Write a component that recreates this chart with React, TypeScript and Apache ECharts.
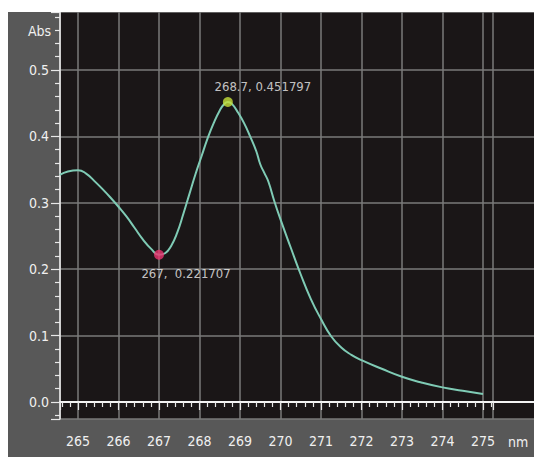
import React, { useEffect, useRef } from "react";
import * as echarts from "echarts";

const wavelengths = [
  264.55, 264.75, 265.0, 265.2, 265.4, 265.6, 265.8, 266.0, 266.2, 266.4, 266.6, 266.8,
  267.0, 267.15, 267.3, 267.45, 267.6, 267.75, 267.9, 268.05, 268.2, 268.35, 268.5, 268.6,
  268.7, 268.8, 268.95, 269.1, 269.25, 269.4, 269.5, 269.6, 269.7, 269.85, 270.0, 270.25,
  270.5, 270.75, 271.0, 271.25, 271.5, 271.75, 272.0, 272.5, 273.0, 273.5, 274.0, 274.5, 275.0,
];
const absorbance = [
  0.342, 0.347, 0.349, 0.344, 0.333, 0.321, 0.308, 0.294, 0.279, 0.262, 0.245, 0.231,
  0.2217, 0.224, 0.235, 0.255, 0.283, 0.313, 0.343, 0.37, 0.397, 0.42, 0.439, 0.448,
  0.4518, 0.449, 0.436, 0.42, 0.4, 0.378, 0.358, 0.345, 0.332, 0.302, 0.275, 0.233,
  0.192, 0.155, 0.125, 0.099, 0.082, 0.071, 0.063, 0.05, 0.038, 0.029, 0.022, 0.017, 0.012,
];
const minPoint = [267, 0.221707];
const peakPoint = [268.7, 0.451797];
const minLabel = "267,  0.221707";
const peakLabel = "268.7, 0.451797";

const FONT = "'Liberation Sans Narrow', 'Arial Narrow', 'DejaVu Sans Condensed', sans-serif";
const TXT = "#f0f0f0";

export default function App() {
  const ref = useRef<HTMLDivElement>(null);
  useEffect(() => {
    if (!ref.current) return;
    const chart = echarts.init(ref.current, undefined, { renderer: "svg" });
    const xMin = 264.555;
    const xMaxA = 276.26;
    const xMaxB = 275.25;
    chart.setOption({
      animation: false,
      backgroundColor: "#585858",
      grid: [
        { left: 52, right: 0, top: 0, bottom: 38, show: true, backgroundColor: "#1a1617", borderWidth: 0 },
        { left: 52, right: 40.9, top: 0, bottom: 38, show: false },
      ],
      xAxis: [
        {
          type: "value",
          gridIndex: 0,
          min: xMin,
          max: xMaxA,
          axisLine: { show: true, lineStyle: { color: "#f4f4f4", width: 2 } },
          axisTick: { show: false },
          axisLabel: { show: false },
          splitLine: { show: false },
        },
        {
          type: "value",
          gridIndex: 1,
          min: xMin,
          max: xMaxB,
          minInterval: 1,
          maxInterval: 1,
          axisLine: { show: false },
          axisTick: { show: true, length: 8, lineStyle: { color: "#e8e8e8", width: 1.2 } },
          minorTick: { show: true, splitNumber: 5, length: 5, lineStyle: { color: "#e8e8e8", width: 1.2 } },
          axisLabel: {
            show: true,
            showMinLabel: false,
            showMaxLabel: false,
            color: TXT,
            fontFamily: FONT,
            fontSize: 14,
            margin: 15,
            formatter: (v: number) => String(Math.round(v)),
          },
          splitLine: { show: true, lineStyle: { color: "#7a7a7a", width: 1.5 } },
        },
      ],
      yAxis: [
        {
          type: "value",
          gridIndex: 0,
          min: -0.0256,
          max: 0.5873,
          minInterval: 0.1,
          maxInterval: 0.1,
          axisLine: { show: true, lineStyle: { color: "#f4f4f4", width: 1.5 } },
          axisTick: { show: true, length: 9, lineStyle: { color: "#e8e8e8", width: 1.2 } },
          minorTick: { show: true, splitNumber: 5, length: 5, lineStyle: { color: "#e8e8e8", width: 1.2 } },
          axisLabel: {
            showMinLabel: false,
            showMaxLabel: false,
            color: TXT,
            fontFamily: FONT,
            fontSize: 14,
            margin: 11,
            formatter: (v: number) => v.toFixed(1),
          },
          splitLine: { show: true, lineStyle: { color: "#7a7a7a", width: 1.5 } },
        },
        {
          type: "value",
          gridIndex: 1,
          min: -0.0256,
          max: 0.5873,
          show: false,
        },
      ],
      graphic: [
        {
          type: "text",
          left: 20,
          top: 12,
          style: { text: "Abs", fill: TXT, font: `14px ${FONT}` },
        },
        {
          type: "text",
          left: 500,
          top: 423,
          style: { text: "nm", fill: TXT, font: `14px ${FONT}` },
        },
      ],
      series: [
        {
          type: "line",
          xAxisIndex: 0,
          yAxisIndex: 0,
          data: wavelengths.map((w, i) => [w, absorbance[i]]),
          smooth: 0.5,
          showSymbol: false,
          lineStyle: { color: "#7fcbb5", width: 2 },
          z: 3,
        },
        {
          type: "scatter",
          xAxisIndex: 0,
          yAxisIndex: 0,
          symbolSize: 10,
          z: 4,
          data: [
            {
              value: minPoint,
              itemStyle: { color: "#e8336f" },
              label: {
                show: true,
                formatter: minLabel,
                position: "bottom",
                offset: [27, 2],
                color: TXT,
                fontFamily: FONT,
                fontSize: 13,
              },
            },
            {
              value: peakPoint,
              itemStyle: { color: "#c5e03a" },
              label: {
                show: true,
                formatter: peakLabel,
                position: "top",
                offset: [35, 1],
                color: TXT,
                fontFamily: FONT,
                fontSize: 13,
              },
            },
          ],
        },
      ],
    });
    return () => chart.dispose();
  }, []);
  return (
    <div
      ref={ref}
      style={{ position: "fixed", left: 8, top: 12, width: 526, height: 445 }}
    />
  );
}
